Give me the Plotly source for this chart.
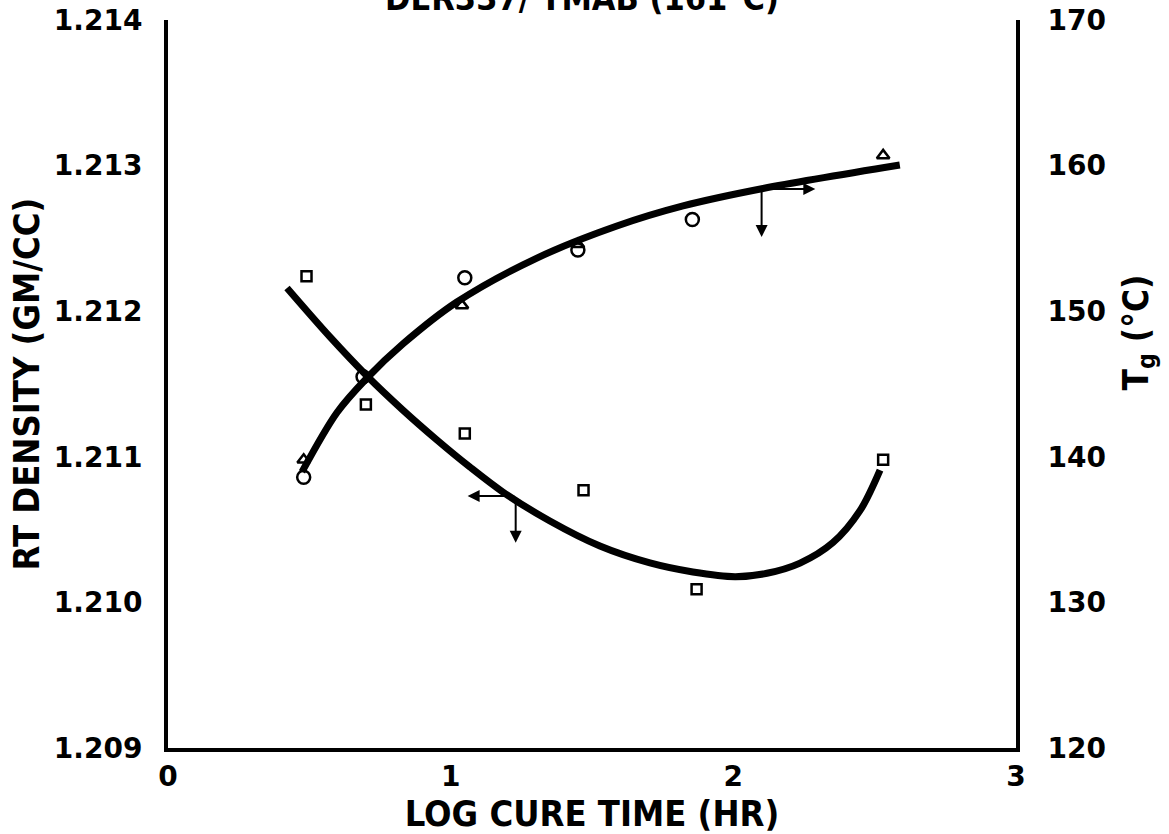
import plotly.graph_objects as go

# Measured points: room-temperature density (squares, left axis)
dens_x = [0.49, 0.70, 1.05, 1.47, 1.87, 2.53]
dens_y = [1.21224, 1.21136, 1.21116, 1.21077, 1.21009, 1.21098]

# Measured points: Tg, two data sets (circles and triangles, right axis)
tg_circ_x = [0.48, 0.69, 1.05, 1.45, 1.855]
tg_circ_y = [138.6, 145.5, 152.3, 154.2, 156.3]
tg_tri_x = [0.48, 1.04, 1.45, 2.53]
tg_tri_y = [139.8, 150.4, 154.6, 160.7]

# Smoothed trend curves drawn through the data
dens_fit_x = [0.421, 0.573, 0.704, 0.831, 0.952, 1.068, 1.185, 1.351, 1.528,
              1.705, 1.857, 2.006, 2.119, 2.236, 2.352, 2.448, 2.519]
dens_fit_y = [1.212159, 1.211823, 1.211555, 1.211321, 1.211115, 1.210930, 1.210758,
              1.210559, 1.210387, 1.210271, 1.210209, 1.210177, 1.210200, 1.210270,
              1.210410, 1.210630, 1.210909]
tg_fit_x = [0.474, 0.598, 0.704, 0.831, 1.022, 1.305, 1.588, 1.822, 2.105, 2.589]
tg_fit_y = [138.96, 143.04, 145.41, 147.75, 150.63, 153.65, 155.85, 157.23, 158.43, 160.04]

x_ticks = [0, 1, 2, 3]
dens_ticks = [1.209, 1.210, 1.211, 1.212, 1.213, 1.214]
tg_ticks = [120, 130, 140, 150, 160, 170]

title_text = "DER337/ TMAB (161°C)"
x_title = "LOG CURE TIME (HR)"
y_title = "RT DENSITY (GM/CC)"
y2_title = "T<sub>g</sub> (°C)"

NARROW = "Liberation Sans Narrow, DejaVu Sans Condensed, Arial Narrow, sans-serif"
WIDE = "DejaVu Sans, Verdana, sans-serif"
INK = "black"

fig = go.Figure()

fig.add_trace(go.Scatter(x=dens_fit_x, y=dens_fit_y, mode="lines",
                         line=dict(color=INK, width=7, shape="spline", smoothing=0.9),
                         hoverinfo="skip", showlegend=False))
fig.add_trace(go.Scatter(x=tg_fit_x, y=tg_fit_y, mode="lines", yaxis="y2",
                         line=dict(color=INK, width=7, shape="spline", smoothing=0.9),
                         hoverinfo="skip", showlegend=False))

fig.add_trace(go.Scatter(x=dens_x, y=dens_y, mode="markers",
                         marker=dict(symbol="square-open", size=10, color=INK,
                                     line=dict(width=2.5, color=INK)),
                         showlegend=False))
fig.add_trace(go.Scatter(x=tg_circ_x, y=tg_circ_y, mode="markers", yaxis="y2",
                         marker=dict(symbol="circle-open", size=13, color=INK,
                                     line=dict(width=2.5, color=INK)),
                         showlegend=False))
fig.add_trace(go.Scatter(x=tg_tri_x, y=tg_tri_y, mode="markers", yaxis="y2",
                         marker=dict(symbol="triangle-up-open", size=11, color=INK,
                                     line=dict(width=2.5, color=INK)),
                         showlegend=False))

# Arrows that tie each curve to its own axis
arrow_common = dict(showarrow=True, arrowhead=2, arrowsize=1.2, arrowwidth=2,
                    arrowcolor=INK, text="", standoff=0, startstandoff=0)
# density curve -> left axis
fig.add_annotation(x=1.06, y=1.21073, ax=1.23, ay=1.21073,
                   xref="x", yref="y", axref="x", ayref="y", **arrow_common)
fig.add_annotation(x=1.23, y=1.21041, ax=1.23, ay=1.21073,
                   xref="x", yref="y", axref="x", ayref="y", **arrow_common)
# Tg curve -> right axis
fig.add_annotation(x=2.29, y=158.4, ax=2.1, ay=158.4,
                   xref="x", yref="y2", axref="x", ayref="y2", **arrow_common)
fig.add_annotation(x=2.1, y=155.1, ax=2.1, ay=158.4,
                   xref="x", yref="y2", axref="x", ayref="y2", **arrow_common)

# Title sits at the very top edge of the page
fig.add_annotation(text=title_text, xref="paper", yref="paper", x=0.488, y=1.0,
                   xanchor="center", yanchor="bottom", showarrow=False,
                   font=dict(family=NARROW, size=34, color=INK, weight="bold"))

# Right-hand axis title
fig.add_annotation(text=y2_title, xref="paper", yref="paper", x=1.144, y=0.571,
                   xanchor="center", yanchor="middle", textangle=-90, showarrow=False,
                   font=dict(family=NARROW, size=35, color=INK, weight="bold"))

fig.update_layout(
    width=1169, height=834,
    margin=dict(l=168, r=153, t=20, b=86, autoexpand=False),
    paper_bgcolor="white", plot_bgcolor="white",
    font=dict(family=WIDE, color=INK),
    xaxis=dict(range=[0, 3], tickvals=x_ticks, ticktext=[str(v) for v in x_ticks],
               showgrid=False, zeroline=False, showline=True, linewidth=4, linecolor=INK,
               ticks="", ticklabelstandoff=0, automargin=False,
               tickfont=dict(family=WIDE, size=28, color=INK, weight="bold"),
               title=dict(text=x_title, standoff=12,
                          font=dict(family=NARROW, size=36, color=INK, weight="bold"))),
    yaxis=dict(range=[1.209, 1.214], tickvals=dens_ticks,
               ticktext=[f"{v:.3f}" for v in dens_ticks],
               showgrid=False, zeroline=False, showline=True, linewidth=4, linecolor=INK,
               ticks="", ticklabelstandoff=16, automargin=False,
               tickfont=dict(family=WIDE, size=28, color=INK, weight="bold"),
               title=dict(text=y_title, standoff=4,
                          font=dict(family=NARROW, size=36, color=INK, weight="bold"))),
    yaxis2=dict(range=[120, 170], tickvals=tg_ticks, ticktext=[str(v) for v in tg_ticks],
                overlaying="y", side="right",
                showgrid=False, zeroline=False, showline=True, linewidth=4, linecolor=INK,
                ticks="", ticklabelstandoff=22, automargin=False,
                tickfont=dict(family=WIDE, size=28, color=INK, weight="bold")),
)

fig.write_html("out.html")
